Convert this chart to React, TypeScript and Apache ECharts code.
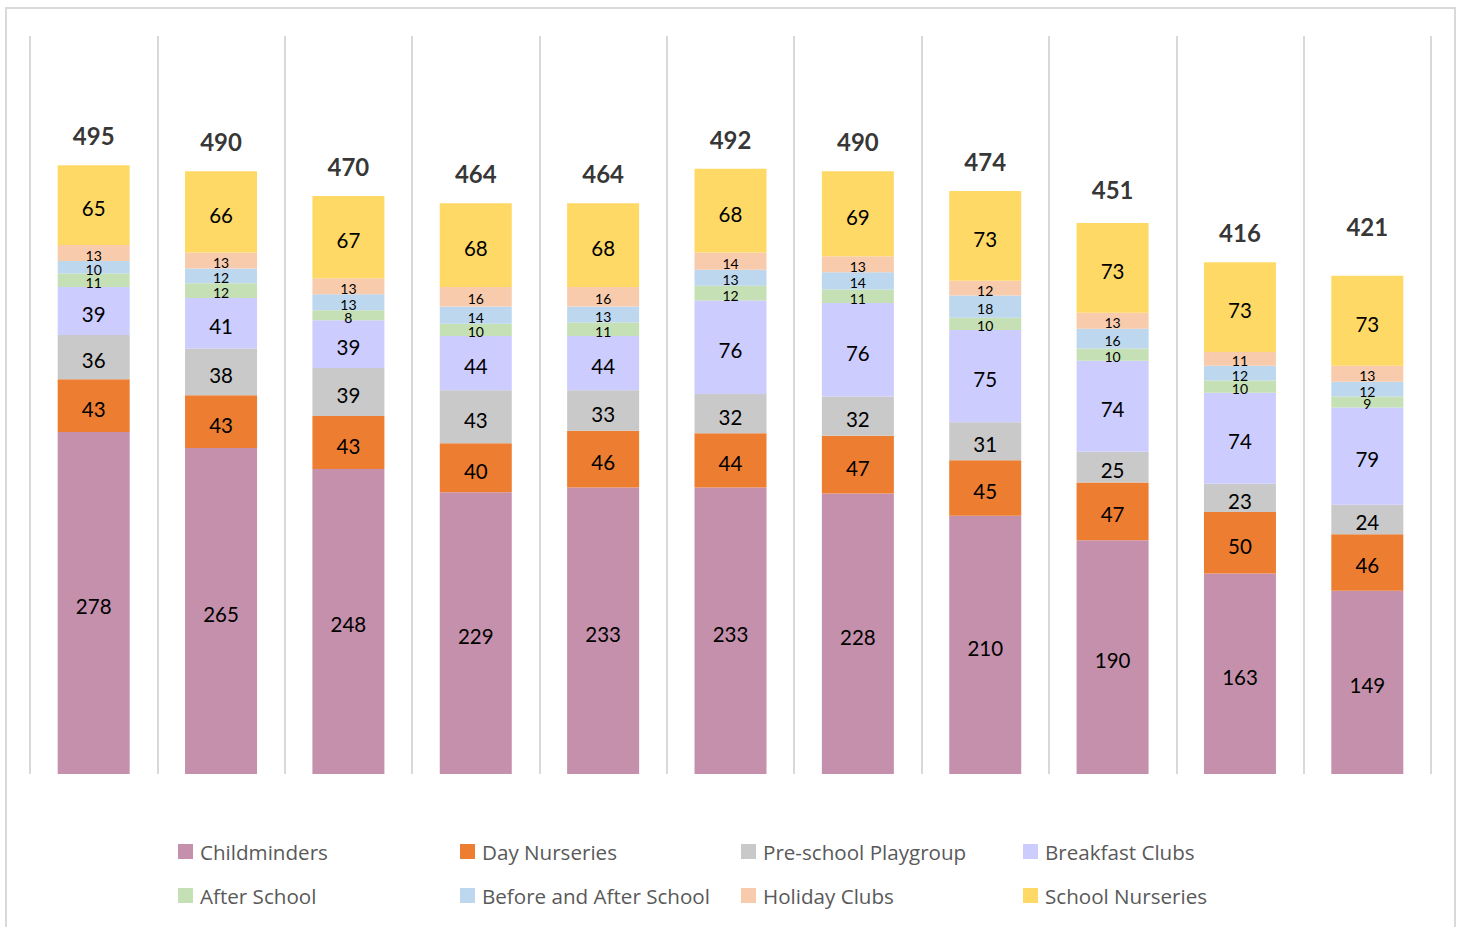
import React, { useEffect, useRef } from "react";
import * as echarts from "echarts";

const categories = ["1", "2", "3", "4", "5", "6", "7", "8", "9", "10", "11"];
const seriesNames = [
  "Childminders",
  "Day Nurseries",
  "Pre-school Playgroup",
  "Breakfast Clubs",
  "After School",
  "Before and After School",
  "Holiday Clubs",
  "School Nurseries",
];
const childminders = [278, 265, 248, 229, 233, 233, 228, 210, 190, 163, 149];
const dayNurseries = [43, 43, 43, 40, 46, 44, 47, 45, 47, 50, 46];
const preschool = [36, 38, 39, 43, 33, 32, 32, 31, 25, 23, 24];
const breakfast = [39, 41, 39, 44, 44, 76, 76, 75, 74, 74, 79];
const afterSchool = [11, 12, 8, 10, 11, 12, 11, 10, 10, 10, 9];
const beforeAfter = [10, 12, 13, 14, 13, 13, 14, 18, 16, 12, 12];
const holiday = [13, 13, 13, 16, 16, 14, 13, 12, 13, 11, 13];
const schoolNurseries = [65, 66, 67, 68, 68, 68, 69, 73, 73, 73, 73];
const totals = [495, 490, 470, 464, 464, 492, 490, 474, 451, 416, 421];

const colors = ["#C590AB", "#ED7D31", "#C9C9C9", "#CCCCFF", "#C5E0B4", "#BDD7EE", "#F8CBAD", "#FFD966"];
const values = [childminders, dayNurseries, preschool, breakfast, afterSchool, beforeAfter, holiday, schoolNurseries];
const smallLabel = [false, false, false, false, true, true, true, false];

const FONT = "Lato, 'Open Sans', sans-serif";
const LEGEND_FONT = "'Open Sans', sans-serif";

export default function App() {
  const ref = useRef<HTMLDivElement>(null);
  useEffect(() => {
    if (!ref.current) return;
    const chart = echarts.init(ref.current, null, { renderer: "svg" });
    const legendX = [178, 460, 741, 1023];
    const legendY = [841, 885];
    const legends = seriesNames.map((n, i) => ({
      data: [n],
      left: legendX[i % 4],
      top: legendY[Math.floor(i / 4)],
      padding: 0,
      itemWidth: 15,
      itemHeight: 15,
      icon: "rect",
      selectedMode: false,
      textStyle: { fontFamily: LEGEND_FONT, fontSize: 20.6, color: "#595959", lineHeight: 20, padding: [0, 0, 0, 2] },
    }));
    const series: any[] = seriesNames.map((n, i) => ({
      name: n,
      type: "bar",
      stack: "total",
      barWidth: 72,
      data: values[i],
      itemStyle: { color: colors[i] },
      label: {
        show: true,
        position: "inside",
        offset: [0, smallLabel[i] ? 2 : 3],
        color: "#000",
        fontFamily: FONT,
        fontSize: smallLabel[i] ? 14 : 20.5,
        lineHeight: smallLabel[i] ? 11 : 20,
      },
    }));
    series.push({
      name: "Total",
      type: "scatter",
      data: totals,
      symbolSize: 1,
      itemStyle: { color: "rgba(0,0,0,0)" },
      label: {
        show: true,
        position: "top",
        distance: 17,
        color: "#000",
        fontFamily: FONT,
        fontSize: 24,
        fontWeight: "bold",
      },
      silent: true,
    });
    chart.setOption({
      animation: false,
      legend: legends,
      grid: { left: 30, right: 30, top: 36, bottom: 153 },
      xAxis: {
        type: "category",
        data: categories,
        axisLine: { show: false },
        axisTick: { show: false },
        axisLabel: { show: false },
        splitLine: { show: true, lineStyle: { color: "#D9D9D9", width: 2 } },
      },
      yAxis: {
        type: "value",
        min: 0,
        max: 600,
        show: false,
        splitLine: { show: false },
      },
      graphic: [
        {
          type: "rect",
          shape: { x: 6, y: 8, width: 1449, height: 940 },
          style: { fill: "none", stroke: "#D9D9D9", lineWidth: 2 },
          silent: true,
        },
      ],
      series,
    });
    return () => chart.dispose();
  }, []);
  return (
    <div
      ref={ref}
      style={{ position: "fixed", left: 0, top: 0, width: 1461, height: 927, background: "#fff" }}
    />
  );
}
